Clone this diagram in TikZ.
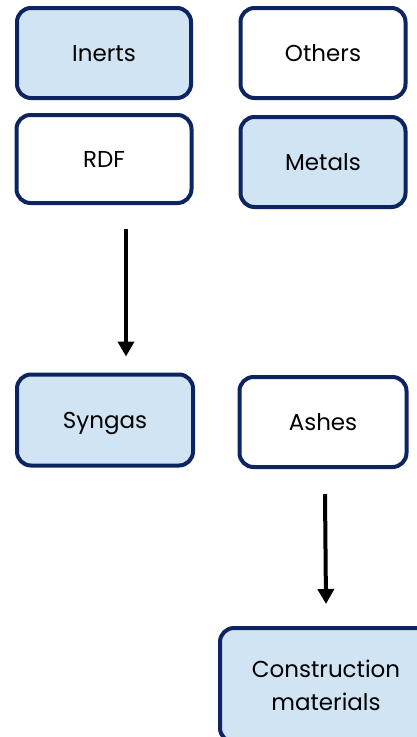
\documentclass[tikz,border=0pt]{standalone}
\usepackage{fontspec}
\setmainfont{Poppins}
\usetikzlibrary{arrows.meta}
\definecolor{navy}{RGB}{12,36,96}
\definecolor{paleblue}{RGB}{209,228,244}
\tikzset{
  box/.style={draw=navy, line width=4pt, rounded corners=14pt, align=center,
    inner sep=0pt, text depth=0pt, font=\fontsize{23}{33}\selectfont, text=black},
  hl/.style={box, fill=paleblue},
  plain/.style={box, fill=white},
  arr/.style={line width=4pt, -{Triangle[width=16pt,length=15pt]}}
}
\begin{document}
\begin{tikzpicture}[x=1pt,y=-1pt]
  \useasboundingbox (0,0) rectangle (417,737);
  % top row
  \node[hl, minimum width=174pt, minimum height=90pt] (inerts) at (104,53) {Inerts};
  \node[plain, minimum width=165pt, minimum height=90pt] (others) at (323,53) {Others};
  \node[plain, minimum width=175pt, minimum height=88pt] (rdf) at (104,159) {RDF};
  \node[hl, minimum width=165pt, minimum height=90pt] (metals) at (323,162) {Metals};
  % products
  \node[hl, minimum width=176pt, minimum height=91pt] (syngas) at (105,420) {Syngas};
  \node[plain, minimum width=167pt, minimum height=90pt] (ashes) at (323,422) {Ashes};
  \node[hl, minimum width=212pt, minimum height=114pt] (constr) at (326,685) {Construction\\materials};
  % flows
  \draw[arr] ([xshift=22pt,yshift=-24pt]rdf.south) -- ([xshift=21pt,yshift=16pt]syngas.north);
  \draw[arr] ([xshift=2pt,yshift=-25pt]ashes.south) -- ([yshift=22pt]constr.north);
\end{tikzpicture}
\end{document}
